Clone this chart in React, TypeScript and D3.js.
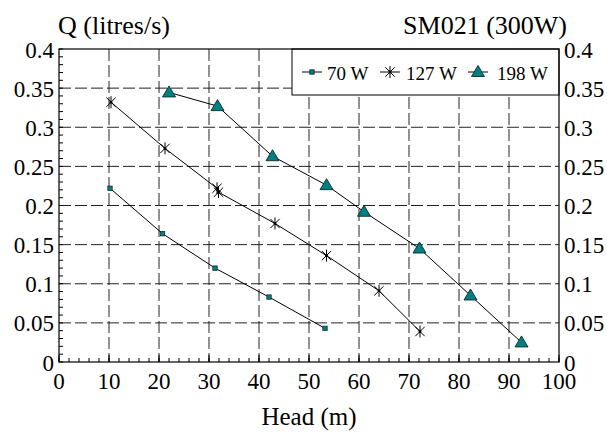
import React from "react";
import * as d3 from "d3";

const W = 607;
const H = 434;

const xTicks = [0, 10, 20, 30, 40, 50, 60, 70, 80, 90, 100];
const yTicks = [0, 0.05, 0.1, 0.15, 0.2, 0.25, 0.3, 0.35, 0.4];
const yTickLabels = ["0", "0.05", "0.1", "0.15", "0.2", "0.25", "0.3", "0.35", "0.4"];

const head70 = [10.2, 20.7, 31.2, 42.0, 53.2];
const q70 = [0.222, 0.164, 0.12, 0.083, 0.043];

const head127 = [10.4, 21.2, 31.6, 31.9, 43.2, 53.5, 64.0, 72.2];
const q127 = [0.332, 0.273, 0.222, 0.217, 0.177, 0.136, 0.091, 0.039];

const head198 = [22.0, 31.7, 42.7, 53.5, 61.0, 72.1, 82.3, 92.5];
const q198 = [0.3445, 0.327, 0.263, 0.226, 0.192, 0.145, 0.085, 0.025];

const seriesNames = ["70 W", "127 W", "198 W"];

const margin = { left: 59, right: 559, top: 49, bottom: 362 };
const FONT = '"Liberation Serif", "Times New Roman", "DejaVu Serif", serif';
const TEAL = "#008080";

const x = d3.scaleLinear().domain([0, 100]).range([margin.left, margin.right]);
const y = d3.scaleLinear().domain([0, 0.4]).range([margin.bottom, margin.top]);

const lineGen = d3
  .line<[number, number]>()
  .x((d) => x(d[0]))
  .y((d) => y(d[1]));

function zip(a: number[], b: number[]): [number, number][] {
  return a.map((v, i) => [v, b[i]]);
}

function Square({ cx, cy }: { cx: number; cy: number }) {
  return <rect x={cx - 2.2} y={cy - 2.2} width={4.4} height={4.4} fill={TEAL} stroke="#1a2a2a" strokeWidth={0.8} />;
}
function Star({ cx, cy }: { cx: number; cy: number }) {
  const r = 5.5;
  const d = r * 0.85;
  return (
    <g stroke="#000" strokeWidth={1}>
      <line x1={cx - d} y1={cy - d} x2={cx + d} y2={cy + d} />
      <line x1={cx - d} y1={cy + d} x2={cx + d} y2={cy - d} />
      <line x1={cx} y1={cy - r - 0.5} x2={cx} y2={cy + r + 0.5} />
      <circle cx={cx} cy={cy} r={1.4} fill="#000" stroke="none" />
    </g>
  );
}
function Tri({ cx, cy }: { cx: number; cy: number }) {
  const p = `${cx},${cy - 6.5} ${cx + 6.5},${cy + 4.5} ${cx - 6.5},${cy + 4.5}`;
  return <polygon points={p} fill={TEAL} stroke="#0b2b2b" strokeWidth={0.9} />;
}

const textStyle: React.CSSProperties = { fontFamily: FONT };

export default function App() {
  const minorY = d3.range(0, 0.4001, 0.01);
  const minorX = d3.range(0, 100.01, 2);
  const s70 = zip(head70, q70);
  const s127 = zip(head127, q127);
  const s198 = zip(head198, q198);
  const legY = 72;
  return (
    <svg width={W} height={H} style={{ position: "absolute", left: 0, top: 0, background: "#fff" }}>
      <rect x={0} y={0} width={W} height={H} fill="#fff" />
      {/* grid */}
      <g stroke="#222" strokeWidth={1} strokeDasharray="12,4">
        {xTicks.slice(1, -1).map((t) => (
          <line key={"gx" + t} x1={x(t)} x2={x(t)} y1={margin.top} y2={margin.bottom} />
        ))}
        {yTicks.slice(1, -1).map((t) => (
          <line key={"gy" + t} x1={margin.left} x2={margin.right} y1={y(t)} y2={y(t)} />
        ))}
      </g>
      {/* minor ticks */}
      <g stroke="#000" strokeWidth={1}>
        {minorY.map((t, i) => (
          <line key={"my" + i} x1={margin.left} x2={margin.left + 4} y1={y(t)} y2={y(t)} />
        ))}
        {minorX.map((t, i) => (
          <line key={"mx" + i} x1={x(t)} x2={x(t)} y1={margin.bottom} y2={margin.bottom - 4} />
        ))}
        {xTicks.map((t) => (
          <line key={"Mx" + t} x1={x(t)} x2={x(t)} y1={margin.bottom} y2={margin.bottom - 7} />
        ))}
      </g>
      {/* series lines */}
      <g fill="none" stroke="#000" strokeWidth={1}>
        <path d={lineGen(s70) || ""} />
        <path d={lineGen(s127) || ""} />
        <path d={lineGen(s198) || ""} />
      </g>
      {s70.map((d, i) => (
        <Square key={"a" + i} cx={x(d[0])} cy={y(d[1])} />
      ))}
      {s127.map((d, i) => (
        <Star key={"b" + i} cx={x(d[0])} cy={y(d[1])} />
      ))}
      {s198.map((d, i) => (
        <Tri key={"c" + i} cx={x(d[0])} cy={y(d[1])} />
      ))}
      {/* legend */}
      <rect x={292} y={margin.top} width={margin.right - 292} height={46} fill="#fff" stroke="#000" strokeWidth={1} />
      <g fontSize={19} fill="#000" style={textStyle}>
        <line x1={302} x2={322} y1={legY} y2={legY} stroke="#000" />
        <Square cx={312} cy={legY} />
        <text x={327} y={legY + 8} style={textStyle}>{seriesNames[0]}</text>
        <line x1={380} x2={400} y1={legY} y2={legY} stroke="#000" />
        <Star cx={390} cy={legY} />
        <text x={406} y={legY + 8} style={textStyle}>{seriesNames[1]}</text>
        <line x1={468} x2={488} y1={legY} y2={legY} stroke="#000" />
        <Tri cx={478} cy={legY} />
        <text x={497} y={legY + 8} style={textStyle}>{seriesNames[2]}</text>
      </g>
      {/* frame */}
      <rect
        x={margin.left}
        y={margin.top}
        width={margin.right - margin.left}
        height={margin.bottom - margin.top}
        fill="none"
        stroke="#000"
        strokeWidth={1.2}
      />
      {/* axis labels */}
      <g fontSize={23} fill="#000" style={textStyle}>
        {yTicks.map((t, i) => (
          <text key={"ly" + i} x={54} y={y(t) + 8.5} textAnchor="end" style={textStyle}>
            {yTickLabels[i]}
          </text>
        ))}
        {yTicks.map((t, i) => (
          <text key={"ry" + i} x={564} y={y(t) + 8.5} textAnchor="start" style={textStyle}>
            {yTickLabels[i]}
          </text>
        ))}
        {xTicks.map((t) => (
          <text key={"lx" + t} x={x(t)} y={margin.bottom + 27} textAnchor="middle" style={textStyle}>
            {t}
          </text>
        ))}
      </g>
      <text x={x(50)} y={425} textAnchor="middle" fontSize={25} style={textStyle}>
        Head (m)
      </text>
      <text x={58} y={34} textAnchor="start" fontSize={26} style={textStyle}>
        Q (litres/s)
      </text>
      <text x={567} y={34} textAnchor="end" fontSize={26} style={textStyle}>
        SM021 (300W)
      </text>
    </svg>
  );
}
